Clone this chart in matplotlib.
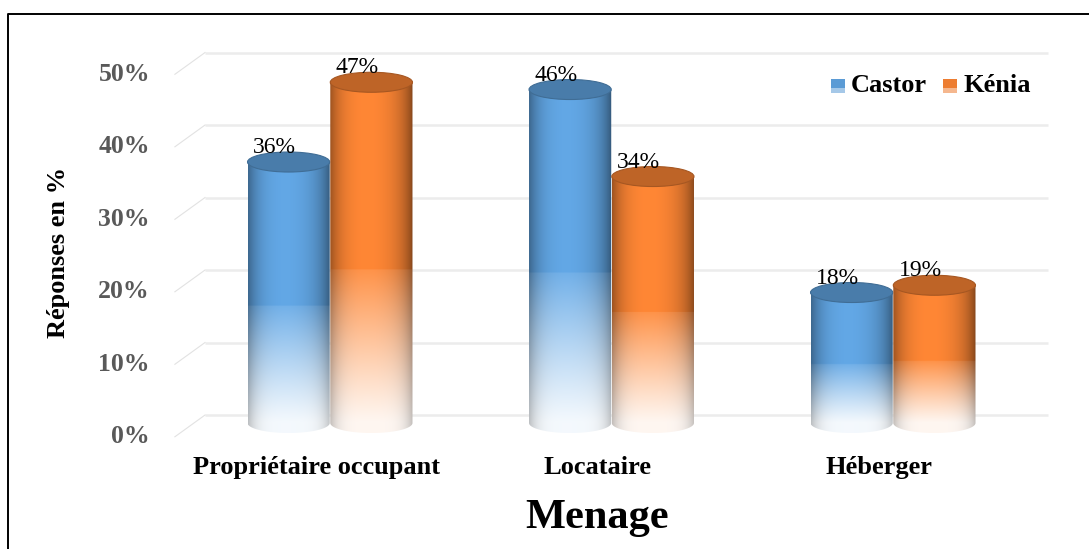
import numpy as np
import matplotlib
matplotlib.use("Agg")
import matplotlib.pyplot as plt
from matplotlib.patches import Polygon, Ellipse, Rectangle
from matplotlib.lines import Line2D

plt.rcParams['font.family'] = ['Liberation Serif', 'DejaVu Serif']

# data
categories = ['Propriétaire occupant', 'Locataire', 'Héberger']
series     = ['Castor', 'Kénia']
castor     = [36, 46, 18]
kenia      = [47, 34, 19]
yticks     = [0, 10, 20, 30, 40, 50]
colors     = [(0.357, 0.608, 0.835), (0.929, 0.490, 0.192)]

W_PX, H_PX, DPI = 1089, 549, 100
fig = plt.figure(figsize=(W_PX / DPI, H_PX / DPI), dpi=DPI)

# axes box in pixels: x 150..1060, y 30..445 (from top)
ax = fig.add_axes([150 / W_PX, (H_PX - 445) / H_PX, 910 / W_PX, 415 / H_PX])
ax.axis('off')

HALF_W = 0.146     # cylinder half width (x units)
ELL_H = 1.38       # half height of the end ellipses (% units)
OFFSET = 0.147     # series offset from category centre
FADE = 0.45        # fraction of bar height that fades to white
BACK, FRONT = 1.1, -1.9   # depth offsets of wall / floor edge
X_WALL, X_FRONT, X_END = -0.444, -0.551, 2.551


def draw_cylinder(cx, val, color, z):
    nx, ny = 80, 300
    u = np.linspace(-1, 1, nx)
    yy = np.linspace(-ELL_H, val + ELL_H, ny)
    # highlight slightly left of centre, darker sides
    shade = 0.72 + 0.36 * np.clip(np.cos(0.5 * np.pi * (u + 0.1) / 1.1), 0, None) ** 0.7
    edge = 1 - 0.22 * np.abs(u) ** 5
    t = yy / val
    alpha = np.where(t > FADE, 1.0, 0.07 + 0.83 * (np.clip(t, 0, None) / FADE) ** 1.1)
    rgb = np.clip(np.array(color)[None, None, :] * shade[None, :, None], 0, 1)
    img = (1 - alpha[:, None, None] * (1 - rgb)) * edge[None, :, None]
    im = ax.imshow(img, extent=(cx - HALF_W, cx + HALF_W, -ELL_H, val + ELL_H),
                   origin='lower', aspect='auto', interpolation='bilinear', zorder=z)
    theta = np.linspace(np.pi, 2 * np.pi, 60)
    bottom = list(zip(cx + HALF_W * np.cos(theta), ELL_H * np.sin(theta)))
    verts = [(cx - HALF_W, val)] + bottom + [(cx + HALF_W, val)]
    clip = Polygon(verts, closed=True, transform=ax.transData)
    im.set_clip_path(clip)
    top_col = tuple(c * 0.8 for c in color)
    rim_col = tuple(c * 0.7 for c in color)
    ax.add_patch(Ellipse((cx, val), 2 * HALF_W, 2 * ELL_H, facecolor=top_col,
                         edgecolor=rim_col, lw=0.8, zorder=z + 0.1))
    ax.text(cx - 0.05, val + 2.0, f'{val}%', ha='center', va='center',
            fontsize=17, color='black', zorder=10)


# gridlines in perspective
for v in yticks:
    ax.plot([X_WALL, X_END], [v + BACK, v + BACK], color='#ececec', lw=1.8, zorder=1,
            solid_capstyle='butt')
    ax.plot([X_FRONT, X_WALL], [v + FRONT, v + BACK], color='#e2e2e2', lw=0.8, zorder=1)
    ax.text(-0.6394, v + FRONT, f'{v}%', ha='right', va='center', fontsize=18.5,
            fontweight='bold', color='#595959')

x = np.arange(len(categories))
for i in x:
    draw_cylinder(i - OFFSET, castor[i], colors[0], 3)
    draw_cylinder(i + OFFSET, kenia[i], colors[1], 4)
    ax.text(i - 0.048, -6.1, categories[i], ha='center', va='center', fontsize=19,
            fontweight='bold', color='black')

ax.set_xlim(-0.6394, 2.5932)
ax.set_ylim(-3.034, 54.21)

# axis titles
fig.text(597 / W_PX, 1 - 518 / H_PX, 'Menage', ha='center', va='center',
         fontsize=30.5, fontweight='bold')
fig.text(58 / W_PX, 1 - 252 / H_PX, 'Réponses en %', ha='center', va='center',
         rotation=90, fontsize=19, fontweight='bold')

# legend (manual, squares with faded bottom)
for (sx, tx), name, col in zip([(831, 851), (943, 963)], series, colors):
    light = tuple(1 - 0.55 * (1 - c) for c in col)
    fig.add_artist(Rectangle((sx / W_PX, 1 - 88 / H_PX), 14 / W_PX, 9 / H_PX,
                             transform=fig.transFigure, facecolor=col, edgecolor='none'))
    fig.add_artist(Rectangle((sx / W_PX, 1 - 93 / H_PX), 14 / W_PX, 5 / H_PX,
                             transform=fig.transFigure, facecolor=light, edgecolor='none'))
    fig.text(tx / W_PX, 1 - 86 / H_PX, name, ha='left', va='center', fontsize=19,
             fontweight='bold')

# outer frame (left and top edges visible)
fig.add_artist(Line2D([8 / W_PX, 8 / W_PX, 1.0], [0.0, 1 - 14 / H_PX, 1 - 14 / H_PX],
                      transform=fig.transFigure, color='black', lw=1.4))

fig.savefig('out.png', dpi=DPI, facecolor='white')
